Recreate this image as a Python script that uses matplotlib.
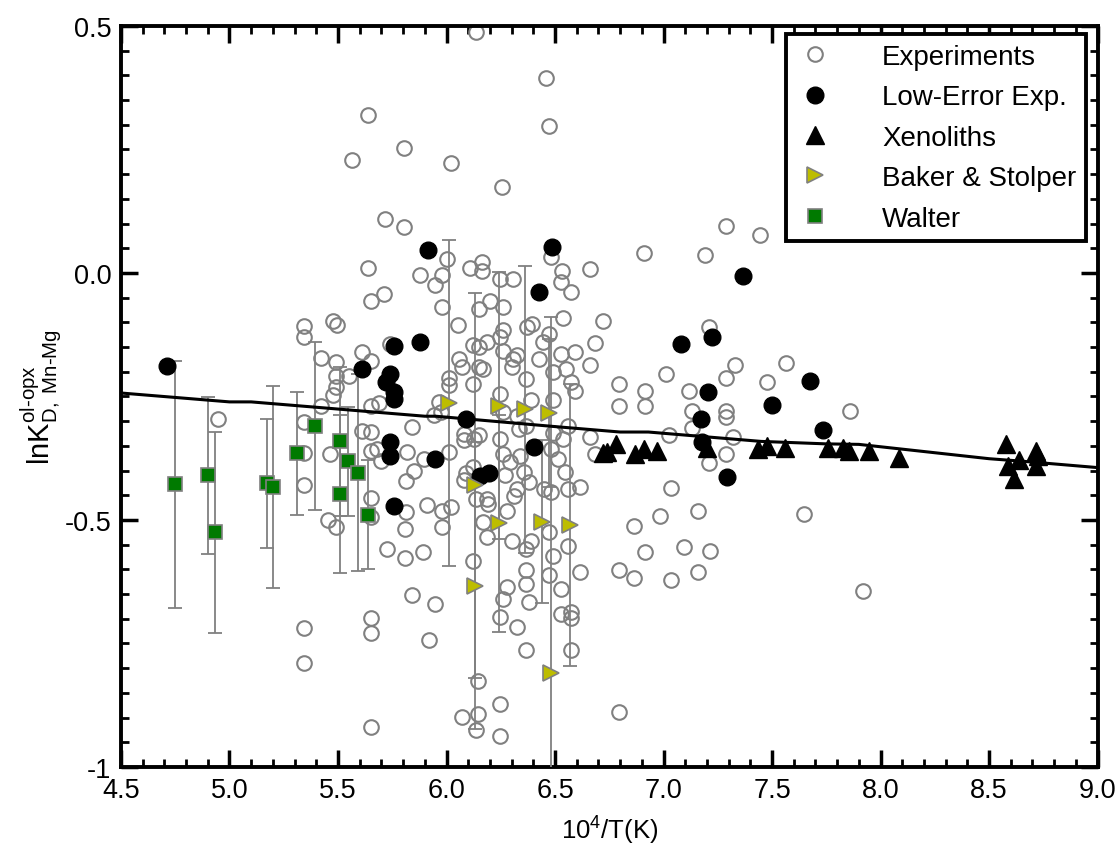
import matplotlib
matplotlib.use("Agg")
import matplotlib.pyplot as plt
from matplotlib.ticker import MultipleLocator, FixedLocator

plt.rcParams['font.family'] = ['Liberation Sans', 'DejaVu Sans']
plt.rcParams['mathtext.fontset'] = 'custom'
plt.rcParams['mathtext.rm'] = 'Liberation Sans'
plt.rcParams['mathtext.it'] = 'Liberation Sans'

# Experiments (open grey circles)
exp_x = [6.135, 6.46, 6.47, 5.638, 5.563, 5.802, 6.023, 6.256, 5.716, 5.802,
         5.638, 6.0, 6.106, 6.164, 6.164, 6.48, 6.53, 6.66, 6.91, 7.19, 7.29, 7.445,
         5.88, 5.947, 5.978, 5.65, 5.71, 5.978, 5.476, 5.496, 6.055, 6.12, 5.74,
         5.423, 5.492, 5.61, 5.65, 5.492, 5.553, 5.476, 5.492, 5.423, 5.65, 5.687,
         6.011, 6.011, 6.058, 6.073, 6.12, 6.15, 6.15, 6.15, 5.965, 5.973, 5.942,
         5.843, 5.61, 5.65, 5.461, 5.65, 5.68, 5.82, 5.70, 5.896, 5.85, 5.812,
         6.011, 6.08, 6.08, 6.126, 6.15, 6.088, 6.12, 6.08, 5.65, 6.135,
         5.453, 5.492, 5.812, 5.809, 5.912, 5.98, 5.98, 6.019, 5.727, 5.809, 5.892,
         6.12, 5.843, 5.945, 5.65, 5.65, 5.919, 5.65, 6.143, 6.073, 6.143, 6.135, 5.65,
         4.945, 5.342, 5.342, 5.342, 5.342, 5.342, 5.342, 5.342,
         6.245, 6.305, 6.527, 6.573, 6.2, 6.262, 6.536, 6.723, 6.262, 6.245, 6.372,
         6.395, 6.474, 6.443, 6.185, 6.262, 6.305, 6.325, 6.30, 6.427, 6.528, 6.59,
         6.66, 6.684, 6.551, 6.49, 6.17, 6.364, 6.574, 6.59, 6.248, 6.388, 6.49,
         6.793, 6.793, 6.916, 6.916, 6.262, 6.325, 6.333, 6.364, 6.559, 6.49, 6.536,
         6.66, 6.684, 6.248, 6.262, 6.293, 6.34, 6.482, 6.513, 6.544, 6.27, 6.355,
         6.378, 6.325, 6.45, 6.482, 6.559, 6.614, 6.185, 6.309,
         6.193, 6.278, 6.17, 6.185, 6.30, 6.388, 6.364, 6.474, 6.49, 6.559, 6.364,
         6.364, 6.474, 6.614, 6.528, 6.278, 6.262, 6.378, 6.528, 6.572, 6.572, 6.248,
         6.325, 6.364, 6.572, 6.248, 6.248, 6.862, 6.916, 6.793, 6.862, 6.793,
         7.21, 7.327, 7.563, 7.01, 7.288, 7.478, 7.118, 7.133, 7.288, 7.288, 7.86,
         7.133, 7.024, 7.32, 7.288, 7.21, 7.033, 7.16, 6.982, 7.647, 7.094, 7.213,
         7.033, 7.16, 7.918]
exp_y = [0.487, 0.394, 0.297, 0.320, 0.229, 0.253, 0.223, 0.173, 0.109, 0.094,
         0.011, 0.029, 0.011, 0.022, 0.004, 0.032, 0.003, 0.008, 0.040, 0.036, 0.096, 0.077,
         -0.004, -0.024, -0.004, -0.056, -0.042, -0.068, -0.097, -0.105, -0.105, -0.146, -0.144,
         -0.173, -0.180, -0.159, -0.178, -0.209, -0.209, -0.247, -0.231, -0.269, -0.269, -0.263,
         -0.213, -0.227, -0.174, -0.191, -0.225, -0.191, -0.150, -0.073, -0.262, -0.282, -0.287,
         -0.312, -0.319, -0.321, -0.366, -0.360, -0.356, -0.363, -0.380, -0.377, -0.400, -0.422,
         -0.363, -0.326, -0.339, -0.336, -0.329, -0.404, -0.393, -0.420, -0.455, -0.457,
         -0.501, -0.515, -0.484, -0.518, -0.470, -0.481, -0.515, -0.474, -0.559, -0.578, -0.565,
         -0.584, -0.652, -0.670, -0.699, -0.729, -0.744, -0.920, -0.825, -0.899, -0.893, -0.925, -0.495,
         -0.295, -0.107, -0.130, -0.302, -0.364, -0.430, -0.719, -0.789,
         -0.012, -0.012, -0.019, -0.038, -0.056, -0.069, -0.092, -0.098, -0.115, -0.130, -0.110,
         -0.103, -0.123, -0.140, -0.139, -0.157, -0.174, -0.167, -0.191, -0.174, -0.164, -0.161,
         -0.186, -0.142, -0.194, -0.201, -0.194, -0.215, -0.221, -0.238, -0.245, -0.258, -0.258,
         -0.225, -0.269, -0.269, -0.238, -0.282, -0.289, -0.316, -0.309, -0.309, -0.323, -0.336,
         -0.333, -0.366, -0.336, -0.366, -0.383, -0.370, -0.356, -0.377, -0.403, -0.410, -0.403,
         -0.424, -0.437, -0.437, -0.444, -0.437, -0.434, -0.457, -0.451,
         -0.468, -0.481, -0.505, -0.535, -0.542, -0.542, -0.559, -0.525, -0.572, -0.552, -0.602,
         -0.630, -0.611, -0.606, -0.640, -0.636, -0.660, -0.667, -0.690, -0.687, -0.699, -0.697,
         -0.717, -0.763, -0.763, -0.872, -0.937, -0.513, -0.565, -0.602, -0.618, -0.889,
         -0.109, -0.186, -0.183, -0.204, -0.213, -0.220, -0.238, -0.279, -0.279, -0.292, -0.280,
         -0.314, -0.329, -0.333, -0.366, -0.385, -0.436, -0.481, -0.491, -0.488, -0.555, -0.562,
         -0.621, -0.606, -0.644]

# Low-error experiments (filled black circles)
low_x = [4.711, 5.612, 5.759, 5.876, 5.739, 5.719, 5.759, 5.759, 6.089, 5.739, 5.739,
         5.946, 6.154, 6.196, 5.913, 5.758, 6.485, 6.425, 6.401, 7.366, 7.082, 7.221,
         7.203, 7.171, 7.175, 7.292, 7.501, 7.673, 7.734]
low_y = [-0.188, -0.194, -0.147, -0.139, -0.205, -0.221, -0.240, -0.255, -0.296, -0.343, -0.370,
         -0.377, -0.411, -0.405, 0.047, -0.472, 0.053, -0.038, -0.352, -0.006, -0.144, -0.130,
         -0.241, -0.296, -0.342, -0.413, -0.267, -0.219, -0.318]

# Xenoliths (black triangles)
xen_x = [6.723, 6.740, 6.783, 6.868, 6.911, 6.971, 7.202, 7.433, 7.476, 7.558, 7.759,
         7.827, 7.853, 7.947, 8.084, 8.580, 8.589, 8.615, 8.640, 8.717, 8.726, 8.717]
xen_y = [-0.364, -0.363, -0.347, -0.367, -0.357, -0.361, -0.354, -0.357, -0.351, -0.354, -0.354,
         -0.354, -0.361, -0.361, -0.374, -0.347, -0.391, -0.418, -0.378, -0.361, -0.371, -0.391]

# Baker & Stolper (yellow triangles with error bars)
bs_x = [6.01, 6.24, 6.36, 6.47, 6.13, 6.24, 6.13, 6.44, 6.57, 6.48]
bs_y = [-0.263, -0.269, -0.276, -0.283, -0.430, -0.507, -0.633, -0.504, -0.510, -0.810]
bs_err = [0.33, 0.27, 0.29, 0.15, 0.39, 0.22, 0.29, 0.165, 0.285, 0.72]

# Walter (green squares with error bars)
wal_x = [4.747, 4.899, 4.933, 5.171, 5.199, 5.311, 5.396, 5.508, 5.547, 5.591, 5.508, 5.638]
wal_y = [-0.428, -0.410, -0.525, -0.426, -0.433, -0.365, -0.309, -0.341, -0.381, -0.404, -0.448, -0.489]
wal_err = [0.25, 0.158, 0.204, 0.13, 0.204, 0.125, 0.17, 0.15, 0.11, 0.2, 0.16, 0.11]

# Model line
fit_x = [4.5, 5.0, 5.1, 5.9, 5.95, 6.5, 6.8, 6.93, 7.45, 7.75, 7.9, 8.5, 8.65, 9.0]
fit_y = [-0.243, -0.261, -0.261, -0.290, -0.290, -0.311, -0.322, -0.322, -0.341, -0.346,
         -0.347, -0.376, -0.381, -0.394]

x_ticks = [4.5, 5.0, 5.5, 6.0, 6.5, 7.0, 7.5, 8.0, 8.5, 9.0]
x_labels = ['4.5', '5.0', '5.5', '6.0', '6.5', '7.0', '7.5', '8.0', '8.5', '9.0']
y_ticks = [-1.0, -0.5, 0.0, 0.5]
y_labels = ['-1', '-0.5', '0.0', '0.5']

fig = plt.figure(figsize=(11.2, 8.53), dpi=100)
ax = fig.add_axes([0.108, 0.0997, 0.872, 0.8687])

grey = '#808080'
ax.plot(exp_x, exp_y, 'o', ms=10.5, mfc='none', mec=grey, mew=1.5,
        label='Experiments', zorder=2)
ax.errorbar(bs_x, bs_y, yerr=bs_err, fmt='none', ecolor=grey, elinewidth=1.3,
            capsize=5, capthick=1.3, zorder=3)
ax.errorbar(wal_x, wal_y, yerr=wal_err, fmt='none', ecolor=grey, elinewidth=1.3,
            capsize=5, capthick=1.3, zorder=3)
ax.plot(fit_x, fit_y, '-', color='black', lw=2.2, zorder=4)
ax.plot(low_x, low_y, 'o', ms=12, color='black', mec='black',
        label='Low-Error Exp.', zorder=5)
ax.plot(xen_x, xen_y, '^', ms=13, color='black', mec='black',
        label='Xenoliths', zorder=6)
ax.plot(bs_x, bs_y, '>', ms=12, mfc='#bdbd00', mec=grey, mew=1.2,
        label='Baker & Stolper', zorder=7)
ax.plot(wal_x, wal_y, 's', ms=10.5, mfc='#007a00', mec=grey, mew=1.2,
        label='Walter', zorder=7)

ax.set_xlim(4.5, 9.0)
ax.set_ylim(-1.0, 0.5)
ax.xaxis.set_major_locator(FixedLocator(x_ticks))
ax.xaxis.set_minor_locator(MultipleLocator(0.1))
ax.yaxis.set_major_locator(FixedLocator(y_ticks))
ax.yaxis.set_minor_locator(MultipleLocator(0.05))
ax.set_xticklabels(x_labels)
ax.set_yticklabels(y_labels)

ax.tick_params(which='both', direction='in', top=True, right=True, labelsize=19.5)
ax.tick_params(which='major', length=12, width=2.5, pad=7)
ax.tick_params(which='minor', length=6, width=2.0)
for s in ax.spines.values():
    s.set_linewidth(2.8)

ax.set_xlabel('10$^4$/T(K)', fontsize=18.5, labelpad=8)
ax.set_ylabel('lnK$^{\\mathregular{ol\u2010opx}}_{\\mathregular{D,\\ Mn\u2010Mg}}$',
              fontsize=21, labelpad=0)

leg = ax.legend(loc='upper right', bbox_to_anchor=(0.988, 0.989), fontsize=20,
                fancybox=False, framealpha=1, edgecolor='black', borderpad=0.35,
                labelspacing=0.52, handlelength=1.4, handletextpad=1.7,
                borderaxespad=0.0)
leg.get_frame().set_linewidth(2.8)

fig.savefig('out.png', dpi=100)
